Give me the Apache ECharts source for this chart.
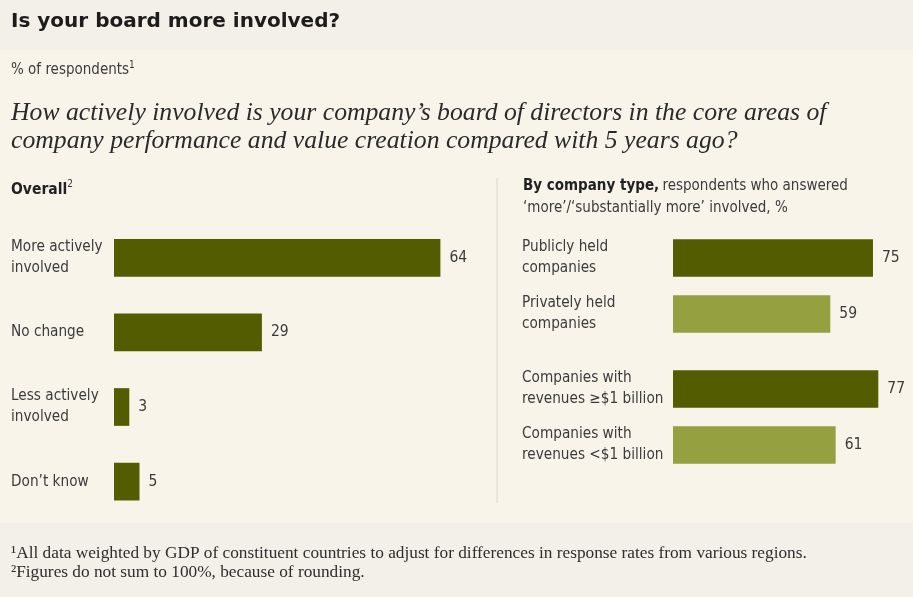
<!DOCTYPE html>
<html>
<head>
<meta charset="utf-8">
<script src="https://cdn.jsdelivr.net/npm/echarts@6/dist/echarts.min.js"></script>
<style>
  html, body { margin: 0; padding: 0; background: #f8f4ea; }
  #chart { width: 913px; height: 597px; }
</style>
</head>
<body>
<div id="chart"></div>
<script>
// Overall board involvement, % of respondents
const overallCategories = ['More actively\ninvolved', 'No change', 'Less actively\ninvolved', 'Don\u2019t know'];
const overallValues = [64, 29, 3, 5];

// By company type: 'more'/'substantially more' involved, %
const ownershipCategories = ['Publicly held\ncompanies', 'Privately held\ncompanies'];
const ownershipValues = [75, 59];
const revenueCategories = ['Companies with\nrevenues \u2265$1 billion', 'Companies with\nrevenues <$1 billion'];
const revenueValues = [77, 61];

const DARK = '#545c00';
const LIGHT = '#95a041';
const NARROW = '"Liberation Sans Narrow", "DejaVu Sans Condensed", "Roboto Condensed", sans-serif';
const SERIF = '"Liberation Serif", "DejaVu Serif", serif';
const TEXT = '#3b3b3b';

const chart = echarts.init(document.getElementById('chart'), null, { renderer: 'canvas' });

function catAxis(gridIndex, cats, margin) {
  return {
    type: 'category', gridIndex, data: cats, inverse: true,
    axisLine: { show: false }, axisTick: { show: false }, splitLine: { show: false },
    axisLabel: {
      align: 'left', margin, fontFamily: NARROW, fontSize: 15.2,
      lineHeight: 21, color: TEXT
    }
  };
}
function valAxis(gridIndex, max) {
  return { type: 'value', gridIndex, min: 0, max, show: false };
}
function barSeries(idx, values, colors) {
  return {
    type: 'bar', xAxisIndex: idx, yAxisIndex: idx, barWidth: 37.7,
    data: values.map((v, i) => ({ value: v, itemStyle: { color: colors[i % colors.length] } })),
    label: {
      show: true, position: 'right', distance: 9,
      fontFamily: NARROW, fontSize: 15.5, color: TEXT
    },
    silent: true, animation: false
  };
}

// value axes: left panel 5.1 px per point, right panel 2.667 px per point
const grids = [
  { left: 114, top: 220.5, width: 408, height: 298.4, outerBoundsMode: 'none' },
  { left: 673, top: 230, width: 213.3, height: 112, outerBoundsMode: 'none' },
  { left: 673, top: 361, width: 213.3, height: 112, outerBoundsMode: 'none' }
];

chart.setOption({
  backgroundColor: '#f8f4ea',
  animation: false,
  grid: grids,
  xAxis: [valAxis(0, 80), valAxis(1, 80), valAxis(2, 80)],
  yAxis: [
    catAxis(0, overallCategories, 114 - 11),
    catAxis(1, ownershipCategories, 673 - 522),
    catAxis(2, revenueCategories, 673 - 522)
  ],
  series: [
    barSeries(0, overallValues, [DARK]),
    barSeries(1, ownershipValues, [DARK, LIGHT]),
    barSeries(2, revenueValues, [DARK, LIGHT])
  ],
  graphic: [
    { type: 'rect', z: -10, silent: true, shape: { x: 0, y: 0, width: 913, height: 50 }, style: { fill: '#f3efe9' } },
    { type: 'rect', z: -10, silent: true, shape: { x: 0, y: 523, width: 913, height: 74 }, style: { fill: '#f3f0ea' } },
    { type: 'line', silent: true, shape: { x1: 497, y1: 178, x2: 497, y2: 503 }, style: { stroke: '#ddd8cc', lineWidth: 1 } },
    {
      type: 'text', silent: true, left: 11, top: 12,
      style: { text: 'Is your board more involved?', font: 'bold 20px "DejaVu Sans", sans-serif', fill: '#1c1c1c' }
    },
    {
      type: 'text', silent: true, left: 11, top: 60,
      style: {
        text: '{t|% of respondents}{s|1}',
        rich: {
          t: { fontFamily: NARROW, fontSize: 15, fill: TEXT, lineHeight: 20 },
          s: { fontFamily: NARROW, fontSize: 10, fill: TEXT, verticalAlign: 'top', lineHeight: 20 }
        }
      }
    },
    {
      type: 'text', silent: true, left: 11, top: 98.5,
      style: {
        text: 'How actively involved is your company\u2019s board of directors in the core areas of\ncompany performance and value creation compared with 5 years ago?',
        font: 'italic 25.7px ' + SERIF, fill: '#2a2a2a', lineHeight: 28.5
      }
    },
    {
      type: 'text', silent: true, left: 11, top: 179,
      style: {
        text: '{b|Overall}{s|2}',
        rich: {
          b: { fontFamily: NARROW, fontWeight: 'bold', fontSize: 15.5, fill: '#222', lineHeight: 21 },
          s: { fontFamily: NARROW, fontSize: 10, fill: TEXT, verticalAlign: 'top', lineHeight: 21 }
        }
      }
    },
    {
      type: 'text', silent: true, left: 523, top: 179,
      style: {
        text: '{b|By company type,} {r|respondents who answered}\n{r|\u2018more\u2019/\u2018substantially more\u2019 involved, %}',
        rich: {
          b: { fontFamily: NARROW, fontWeight: 'bold', fontSize: 15, fill: '#222', lineHeight: 22 },
          r: { fontFamily: NARROW, fontSize: 15, fill: TEXT, lineHeight: 22 }
        }
      }
    },
    {
      type: 'text', silent: true, left: 11, top: 544,
      style: {
        text: '\u00b9All data weighted by GDP of constituent countries to adjust for differences in response rates from various regions.\n\u00b2Figures do not sum to 100%, because of rounding.',
        font: '17.3px ' + SERIF, fill: '#2e2e2e', lineHeight: 19
      }
    }
  ]
});
</script>
</body>
</html>
